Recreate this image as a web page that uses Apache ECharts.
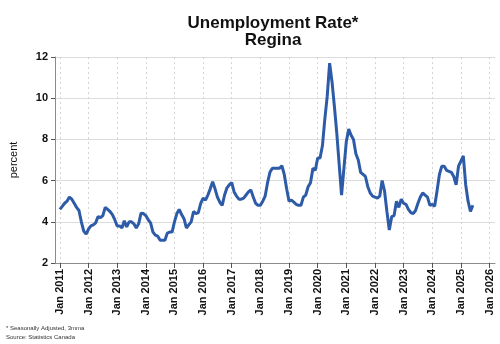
<!DOCTYPE html>
<html>
<head>
<meta charset="utf-8">
<script src="https://cdn.jsdelivr.net/npm/echarts@6/dist/echarts.min.js"></script>
<style>
  html, body { margin: 0; padding: 0; background: #fff; }
  #chart { width: 500px; height: 344px; }
</style>
</head>
<body>
<div id="chart"></div>
<script>
// Regina unemployment rate, seasonally adjusted 3-month moving average, monthly from Jan 2011
const startYear = 2011;
const rates = [
  // 2011
  4.6, 4.75, 4.9, 5.0, 5.2, 5.1, 4.9, 4.7, 4.55, 4.0, 3.55, 3.4,
  // 2012
  3.65, 3.8, 3.85, 3.95, 4.25, 4.2, 4.3, 4.7, 4.6, 4.5, 4.35, 4.1,
  // 2013
  3.8, 3.8, 3.7, 4.05, 3.75, 4.0, 4.0, 3.9, 3.7, 3.9, 4.42, 4.4,
  // 2014
  4.3, 4.1, 3.95, 3.5, 3.35, 3.3, 3.1, 3.1, 3.1, 3.45, 3.5, 3.5,
  // 2015
  4.0, 4.4, 4.6, 4.35, 4.15, 3.7, 3.85, 4.0, 4.5, 4.4, 4.45, 4.9,
  // 2016
  5.15, 5.05, 5.3, 5.6, 5.95, 5.6, 5.2, 4.95, 4.8, 5.3, 5.65, 5.8,
  // 2017
  5.9, 5.45, 5.25, 5.1, 5.1, 5.15, 5.3, 5.45, 5.55, 5.2, 4.9, 4.8,
  // 2018
  4.8, 5.0, 5.25, 5.9, 6.4, 6.6, 6.6, 6.6, 6.6, 6.72, 6.3, 5.6,
  // 2019
  5.0, 5.05, 4.95, 4.85, 4.8, 4.8, 5.2, 5.3, 5.7, 5.9, 6.6, 6.5,
  // 2020
  7.1, 7.1, 7.7, 9.0, 10.1, 11.7, 10.8, 9.6, 8.3, 6.8, 5.3, 6.6,
  // 2021
  7.9, 8.5, 8.2, 8.0, 7.3, 7.0, 6.4, 6.3, 6.2, 5.7, 5.4, 5.25,
  // 2022
  5.2, 5.15, 5.25, 6.0, 5.5, 4.5, 3.6, 4.25, 4.3, 5.0, 4.7, 5.1,
  // 2023
  4.9, 4.85, 4.6, 4.45, 4.4, 4.55, 4.9, 5.2, 5.4, 5.3, 5.2, 4.8,
  // 2024
  4.85, 4.75, 5.5, 6.3, 6.7, 6.7, 6.5, 6.45, 6.4, 6.2, 5.8, 6.7,
  // 2025
  6.95, 7.2, 5.8, 5.0, 4.5, 4.8
];
const yearTicks = [2011, 2012, 2013, 2014, 2015, 2016, 2017, 2018,
                   2019, 2020, 2021, 2022, 2023, 2024, 2025, 2026];
const yTicks = [2, 4, 6, 8, 10, 12];

const points = rates.map((v, i) => [startYear + i / 12, v]);

const chart = echarts.init(document.getElementById('chart'), null, { renderer: 'canvas' });
const font = 'Arial, "Liberation Sans", sans-serif';

chart.setOption({
  backgroundColor: '#ffffff',
  animation: false,
  grid: { left: 51, right: 5, top: 57, bottom: 81, containLabel: false },
  xAxis: {
    type: 'value',
    min: 2010.83,
    max: 2026.19,
    axisLine: { show: true, onZero: false, lineStyle: { color: '#8c8c8c', width: 1 } },
    axisTick: { show: true, customValues: yearTicks, length: 5, lineStyle: { color: '#555' } },
    axisLabel: {
      customValues: yearTicks,
      formatter: v => 'Jan ' + Math.round(v),
      rotate: 90,
      margin: 6,
      fontFamily: font,
      fontSize: 11,
      fontWeight: 'bold',
      color: '#111'
    },
    splitLine: { show: true, lineStyle: { color: '#d4d4d4', type: [2, 3], width: 1 } }
  },
  yAxis: {
    type: 'value',
    min: 2,
    max: 12,
    interval: 2,
    name: 'percent',
    nameLocation: 'middle',
    nameGap: 36,
    nameRotate: 90,
    nameTextStyle: { fontFamily: font, fontSize: 11, color: '#111' },
    axisLine: { show: true, lineStyle: { color: '#8c8c8c', width: 1 } },
    axisTick: { show: true, length: 4, lineStyle: { color: '#555' } },
    axisLabel: {
      formatter: v => yTicks.includes(v) ? String(v) : '',
      fontFamily: font,
      fontSize: 11,
      fontWeight: 'bold',
      color: '#111',
      margin: 7
    },
    splitLine: { show: true, lineStyle: { color: '#dcdcdc', width: 1 } }
  },
  series: [{
    type: 'line',
    data: points,
    showSymbol: false,
    smooth: false,
    lineStyle: { color: '#2d5ba8', width: 3 },
    itemStyle: { color: '#2d5ba8' }
  }],
  graphic: [
    {
      type: 'text', x: 273, y: 23,
      style: { text: 'Unemployment Rate*', fontFamily: font, fontSize: 17, fontWeight: 'bold',
               fill: '#111', align: 'center', verticalAlign: 'middle' }
    },
    {
      type: 'text', x: 273, y: 40,
      style: { text: 'Regina', fontFamily: font, fontSize: 17, fontWeight: 'bold',
               fill: '#111', align: 'center', verticalAlign: 'middle' }
    },
    {
      type: 'text', x: 6, y: 328,
      style: { text: '* Seasonally Adjusted, 3mma', fontFamily: font, fontSize: 6,
               fill: '#333', align: 'left', verticalAlign: 'middle' }
    },
    {
      type: 'text', x: 6, y: 337,
      style: { text: 'Source: Statistics Canada', fontFamily: font, fontSize: 6,
               fill: '#333', align: 'left', verticalAlign: 'middle' }
    }
  ]
});
</script>
</body>
</html>
